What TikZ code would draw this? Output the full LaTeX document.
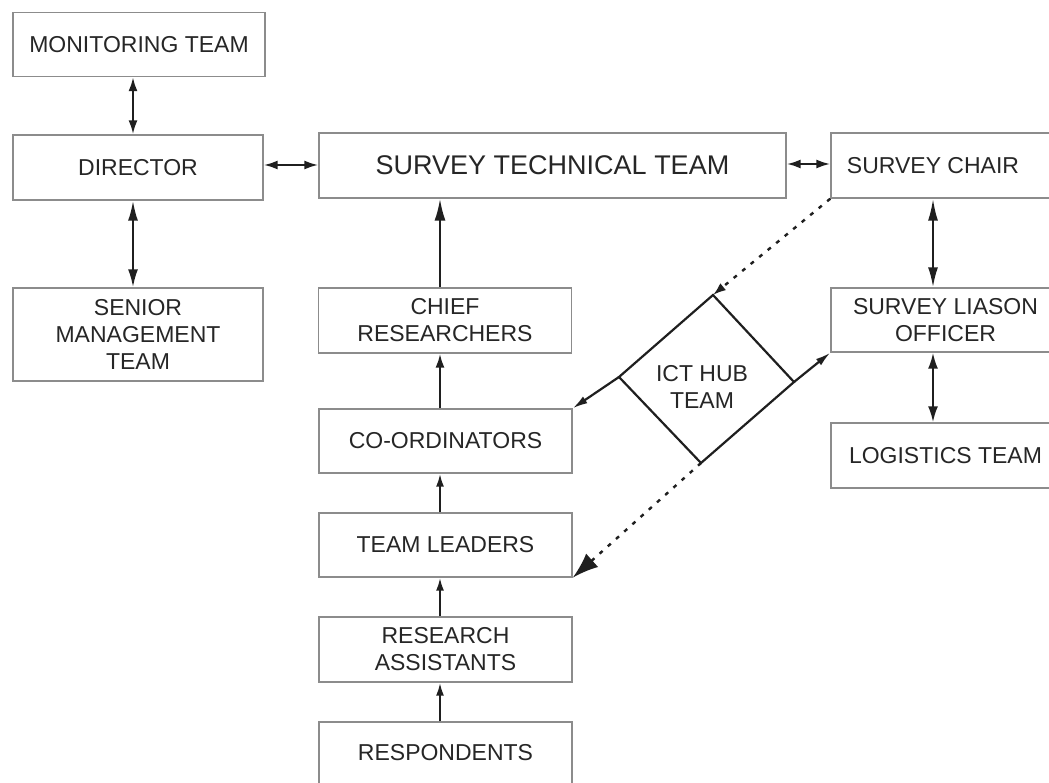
\documentclass[tikz,border=0pt]{standalone}
\usepackage{fontspec}
\setmainfont{Liberation Sans}
\usetikzlibrary{arrows.meta,calc}
\begin{document}
\begin{tikzpicture}[x=1pt,y=-1pt,
  box/.style={draw=black!45, line width=1.4pt, text=black!85, align=center,
    inner sep=0pt, font=\fontsize{23}{27}\selectfont},
  colbox/.style={box, minimum width=253pt, minimum height=64pt},
  sidebox/.style={box, minimum width=229pt, minimum height=65pt},
  label/.style={text=black!85, align=center, inner sep=0pt, font=\fontsize{23}{27}\selectfont},
  link/.style={draw=black!88, line width=2.2pt},
  dotlink/.style={draw=black!88, line width=2.4pt, dash pattern=on 4pt off 7pt},
  tip/.style={-{Latex[length=14pt,width=9pt]}},
  bitip/.style={{Latex[length=14pt,width=9pt]}-{Latex[length=14pt,width=9pt]}},
  longbitip/.style={{Latex[length=20pt,width=10pt]}-{Latex[length=18pt,width=10pt]}}
]
\useasboundingbox (0,0) rectangle (1049,783);
\fill[white] (0,0) rectangle (1049,783);
\clip (0,0) rectangle (1049,783);

% left column
\node[box, minimum width=252pt, minimum height=64pt] (mon) at (139,44.5) {MONITORING TEAM};
\node[box, minimum width=250pt, minimum height=65pt] (dir) at (138,167.5) {DIRECTOR};
\node[box, minimum width=250pt, minimum height=93pt] (sen) at (138,334.5) {SENIOR\\MANAGEMENT\\TEAM};

% centre column
\node[box, minimum width=467pt, minimum height=65pt, font=\fontsize{27}{31}\selectfont] (stt) at (552.5,165.5) {SURVEY TECHNICAL TEAM};
\node[colbox, minimum height=65pt] (chief) at (445,320.5) {CHIEF\\RESEARCHERS};
\node[colbox] (coord) at (445.5,441) {CO-ORDINATORS};
\node[colbox] (tl) at (445.5,545) {TEAM LEADERS};
\node[colbox, minimum height=65pt] (ra) at (445.5,649.5) {RESEARCH\\ASSISTANTS};
\node[colbox, minimum height=76pt] (resp) at (445.5,760) {\raisebox{16pt}{RESPONDENTS}};

% right column
\node[sidebox] (chair) at (945.5,165.5) {SURVEY CHAIR\hspace*{25pt}};
\node[sidebox, minimum height=64pt] (slo) at (945.5,320) {SURVEY LIASON\\OFFICER};
\node[sidebox] (log) at (945.5,455.5) {LOGISTICS TEAM};

% ICT hub diamond
\coordinate (dT) at (713,295);
\coordinate (dR) at (794,382);
\coordinate (dB) at (701,463);
\coordinate (dL) at (619,377);
\draw[link, line join=miter] (dT) -- (dR) -- (dB) -- (dL) -- cycle;
\node[label] (ict) at (702,387) {ICT HUB\\TEAM};

% two-way links
\draw[link, bitip] ([xshift=-6pt]mon.south) -- ([xshift=-6pt]mon.south |- dir.north);
\draw[link, longbitip] ([xshift=-5pt]dir.south) -- ([xshift=-5pt]dir.south |- sen.north);
\draw[link, bitip] (dir.east |- 0,165) -- (stt.west |- 0,165);
\draw[link, bitip] (stt.east |- 0,164) -- (chair.west |- 0,164);
\draw[link, {Latex[length=22pt,width=10pt]}-{Latex[length=20pt,width=10pt]}] ([xshift=-12.5pt]chair.south) -- ([xshift=-12.5pt]chair.south |- slo.north);
\draw[link, {Latex[length=16pt,width=10pt]}-{Latex[length=16pt,width=10pt]}] ([xshift=-12.5pt]slo.south) -- ([xshift=-12.5pt]slo.south |- log.north);

% reporting chain
\draw[link, -{Latex[length=22pt,width=11pt]}] ([xshift=-5pt]chief.north) -- ([xshift=-5pt]chief.north |- stt.south);
\draw[link, tip] ([xshift=-5.5pt]coord.north) -- ([xshift=-5.5pt]coord.north |- chief.south);
\draw[link, -{Latex[length=13pt,width=8pt]}] ([xshift=-5.5pt]tl.north) -- ([xshift=-5.5pt]tl.north |- coord.south);
\draw[link, -{Latex[length=13pt,width=8pt]}] ([xshift=-5.5pt]ra.north) -- ([xshift=-5.5pt]ra.north |- tl.south);
\draw[link, -{Latex[length=13pt,width=8pt]}] ([xshift=-5.5pt]resp.north) -- ([xshift=-5.5pt]resp.north |- ra.south);

% ICT hub links
\draw[link, -{Latex[length=15pt,width=8pt]}] (dL) -- (coord.north east);
\draw[link, -{Latex[length=15pt,width=8pt]}] (dR) -- (slo.south west);
\draw[dotlink, -{Latex[length=13pt,width=9pt]}] (chair.south west) -- (dT);
\draw[dotlink, -{Latex[length=26pt,width=18pt]}] (dB) -- (tl.south east);
\end{tikzpicture}
\end{document}
